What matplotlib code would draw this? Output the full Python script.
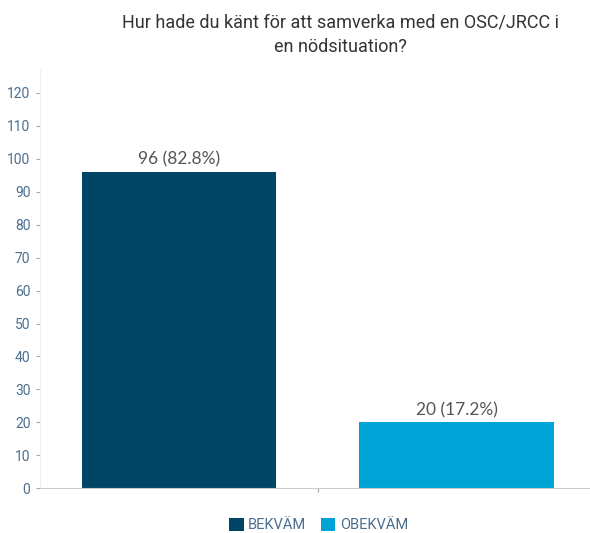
import matplotlib
matplotlib.use('Agg')
import matplotlib.pyplot as plt
from matplotlib.patches import Patch

# data
categories = ['BEKVÄM', 'OBEKVÄM']
counts = [96, 20]
percents = [82.8, 17.2]
colors = ['#004466', '#00a3d6']
yticks = [0, 10, 20, 30, 40, 50, 60, 70, 80, 90, 100, 110, 120]

plt.rcParams['font.family'] = ['Roboto', 'DejaVu Sans']

fig = plt.figure(figsize=(5.9, 5.33), dpi=100)
ax = fig.add_axes([0.068, 0.084, 0.932, 0.785])

x = list(range(len(categories)))
bars = ax.bar(x, counts, width=0.70, color=colors, edgecolor='none')

labels = [f'{c} ({p}%)' for c, p in zip(counts, percents)]
ax.bar_label(bars, labels=labels, padding=3, fontsize=12.5, color='#555555', family=['Lato', 'DejaVu Sans'])

ax.set_xlim(-0.5, 1.48)
ax.set_ylim(0, 127)
ax.set_yticks(yticks)
ax.set_xticks([0.5])
ax.set_xticklabels([''])
ax.tick_params(axis='y', colors='#9aa8b4', labelcolor='#4a6f8f', labelsize=10, length=3, width=0.8, pad=4)
ax.tick_params(axis='x', colors='#9aa8b4', length=3, width=0.8)

for s in ['top', 'right']:
    ax.spines[s].set_visible(False)
ax.spines['left'].set_color('#eeeeee')
ax.spines['bottom'].set_color('#cccccc')

fig.suptitle('Hur hade du känt för att samverka med en OSC/JRCC i\nen nödsituation?',
             x=0.577, y=0.975, fontsize=13, color='#333333', linespacing=1.45)

handles = [Patch(facecolor=c, edgecolor='none') for c in colors]
leg = fig.legend(handles, categories, loc='center', bbox_to_anchor=(0.54, 0.015),
                 ncol=2, frameon=False, fontsize=10.5, handlelength=1.0, handleheight=1.0,
                 handletextpad=0.3, columnspacing=1.0)
for t in leg.get_texts():
    t.set_color('#4a6f8f')

fig.savefig('out.png', dpi=100)
plt.close()
